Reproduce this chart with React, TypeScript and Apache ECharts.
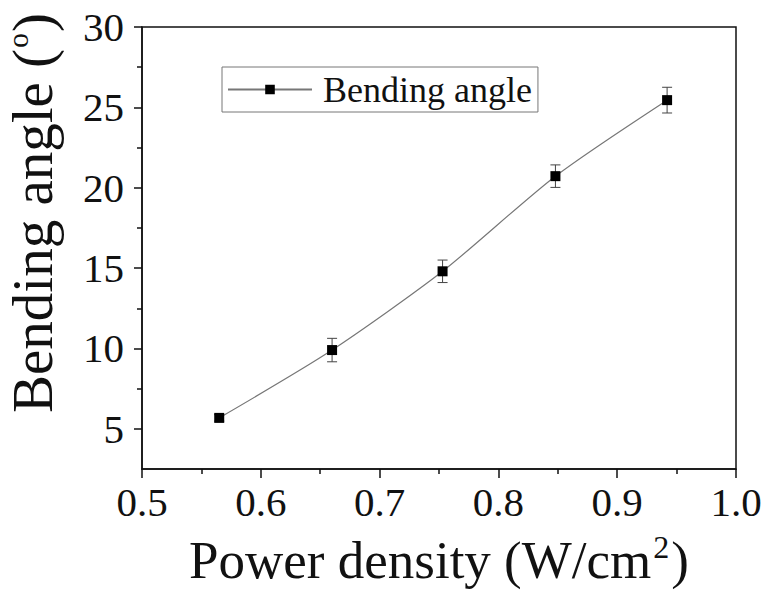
import React, { useEffect, useRef } from "react";
import * as echarts from "echarts";

const powerDensity = [0.565, 0.66, 0.753, 0.848, 0.942];
const bendingAngle = [5.68, 9.9, 14.8, 20.72, 25.45];
const angleError = [0.2, 0.73, 0.7, 0.7, 0.8];
const yMajorTicks = [5, 10, 15, 20, 25, 30];
const yMinorTicks = [7.5, 12.5, 17.5, 22.5, 27.5];
const seriesName = "Bending angle";

const FONT = "'Liberation Serif', 'Times New Roman', serif";

export default function App() {
  const ref = useRef<HTMLDivElement>(null);
  useEffect(() => {
    if (!ref.current) return;
    const chart = echarts.init(ref.current, null, { renderer: "svg" });
    const pts = powerDensity.map((x, i) => [x, bendingAngle[i]]);
    const errs = powerDensity.map((x, i) => [x, bendingAngle[i] - angleError[i], bendingAngle[i] + angleError[i]]);
    chart.setOption({
      animation: false,
      backgroundColor: "#fff",
      grid: {
        left: 142,
        right: 33,
        top: 27,
        bottom: 126,
        containLabel: false,
        outerBoundsMode: "none",
        show: true,
        borderColor: "#111",
        borderWidth: 1.5,
      },
      legend: {
        data: [seriesName],
        left: 222,
        top: 67,
        orient: "horizontal",
        padding: [4, 6, 4, 5],
        borderColor: "#777",
        borderWidth: 1,
        itemWidth: 84,
        itemHeight: 12,
        itemGap: 10,
        textStyle: { fontFamily: FONT, fontSize: 36, color: "#111", lineHeight: 37, padding: [0, 0, 0, 6] },
      },
      xAxis: {
        type: "value",
        min: 0.5,
        max: 1.0,
        interval: 0.1,
        splitLine: { show: false },
        axisLine: { lineStyle: { color: "#111", width: 1.5 } },
        axisTick: { length: 9, lineStyle: { color: "#111", width: 1.5 } },
        minorTick: { show: true, splitNumber: 2, length: 5, lineStyle: { color: "#111", width: 1.5 } },
        axisLabel: {
          fontFamily: FONT,
          fontSize: 41,
          color: "#111",
          margin: 12,
          formatter: (v: number) => v.toFixed(1),
        },
        name: "{n|Power density (W/cm}{s|2}{n|)}",
        nameLocation: "middle",
        nameGap: 62,
        nameTextStyle: {
          rich: {
            n: { fontFamily: FONT, fontSize: 53, color: "#111" },
            s: { fontFamily: FONT, fontSize: 32, color: "#111", verticalAlign: "top", padding: [0, 2, 26, 2] },
          },
        },
      },
      yAxis: [
        {
          type: "value",
          min: 2.5,
          max: 30,
          splitLine: { show: false },
          axisLine: { lineStyle: { color: "#111", width: 1.5 } },
          axisTick: { length: 8, customValues: yMajorTicks, lineStyle: { color: "#111", width: 1.5 } },
          axisLabel: {
            customValues: yMajorTicks,
            fontFamily: FONT,
            fontSize: 41,
            color: "#111",
            margin: 18,
          },
          name: "{n|Bending angle (}{s|o}{n|)}",
          nameLocation: "middle",
          nameRotate: 90,
          nameGap: 80,
          nameTextStyle: {
            padding: [0, 0, 0, 70],
            rich: {
              n: { fontFamily: FONT, fontSize: 57, color: "#111" },
              s: { fontFamily: FONT, fontSize: 30, color: "#111", verticalAlign: "top", padding: [0, 1, 30, 1] },
            },
          },
        },
        {
          type: "value",
          min: 2.5,
          max: 30,
          position: "left",
          splitLine: { show: false },
          axisLine: { show: false },
          axisTick: { length: 5, customValues: yMinorTicks, lineStyle: { color: "#111", width: 1.5 } },
          axisLabel: { show: false },
        },
      ],
      series: [
        {
          name: seriesName,
          type: "line",
          data: pts,
          smooth: 0.25,
          symbol: "rect",
          symbolSize: 10,
          itemStyle: { color: "#000" },
          lineStyle: { color: "#777", width: 1.2 },
          z: 3,
        },
        {
          name: "err",
          type: "custom",
          data: errs,
          z: 2,
          renderItem: (params: any, api: any) => {
            const x = api.value(0);
            const lo = api.coord([x, api.value(1)]);
            const hi = api.coord([x, api.value(2)]);
            const hw = 5;
            const style = { stroke: "#444", lineWidth: 1, fill: "none" };
            return {
              type: "group",
              children: [
                { type: "line", shape: { x1: lo[0], y1: lo[1], x2: hi[0], y2: hi[1] }, style },
                { type: "line", shape: { x1: lo[0] - hw, y1: lo[1], x2: lo[0] + hw, y2: lo[1] }, style },
                { type: "line", shape: { x1: hi[0] - hw, y1: hi[1], x2: hi[0] + hw, y2: hi[1] }, style },
              ],
            };
          },
        },
      ],
    });
    return () => chart.dispose();
  }, []);
  return (
    <div
      ref={ref}
      style={{ position: "fixed", left: 0, top: 0, width: 769, height: 595, background: "#fff" }}
    />
  );
}
